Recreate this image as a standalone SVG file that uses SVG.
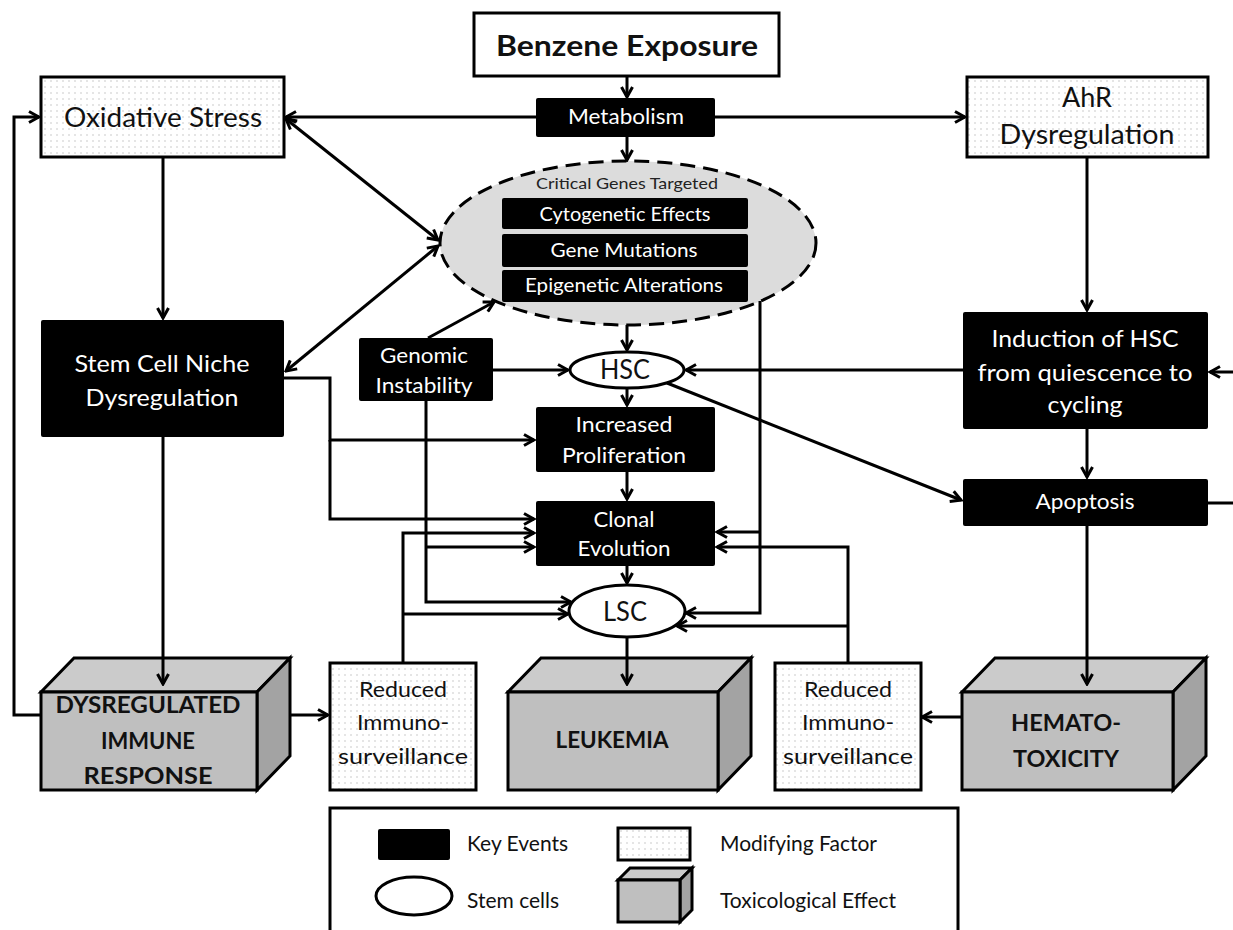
<svg xmlns="http://www.w3.org/2000/svg" width="1233" height="930" viewBox="0 0 1233 930">
  <defs>
    <pattern id="dots" width="6" height="6" patternUnits="userSpaceOnUse">
      <rect width="6" height="6" fill="#ffffff"/>
      <circle cx="3" cy="3" r="0.8" fill="#c4c4c4"/>
    </pattern>
    <marker id="ah" viewBox="0 0 14 14" markerWidth="14" markerHeight="14" refX="12" refY="7" orient="auto-start-reverse" markerUnits="userSpaceOnUse">
      <path d="M2,1.5 L12,7 L2,12.5" fill="none" stroke="#000" stroke-width="3"/>
    </marker>
    <style>
      text { font-family: Lato, "Open Sans", "Liberation Sans", sans-serif; text-anchor: middle; }
      .ke { fill: #000; stroke: none; }
      .kt { fill: #fff; }
      .mf { fill: url(#dots); stroke: #000; stroke-width: 3; }
      .mt { fill: #111; }
      .bx { stroke: #000; stroke-width: 3; stroke-linejoin: miter; }
      .front { fill: #bfbfbf; }
      .top { fill: #cbcbcb; }
      .side { fill: #a3a3a3; }
      .bt { fill: #111; font-weight: bold; }
      .sc { fill: #fff; stroke: #000; stroke-width: 3; }
      .cn path { fill: none; stroke: #000; stroke-width: 3; }
      .arr { marker-end: url(#ah); }
      .both { marker-start: url(#ah); marker-end: url(#ah); }
      .lg { fill: #111; text-anchor: start; font-size: 21px; }
    </style>
  </defs>

  <rect width="1233" height="930" fill="#ffffff"/>

  <g id="benzene">
    <rect x="474" y="13" width="305" height="63" fill="#fff" stroke="#000" stroke-width="3"/>
    <text x="627" y="56" class="bt" font-size="29" textLength="262" lengthAdjust="spacingAndGlyphs">Benzene Exposure</text>
  </g>

  <g id="metabolism">
    <rect x="536" y="98" width="179" height="39" rx="2" class="ke"/>
    <text x="626" y="124" class="kt" font-size="21" textLength="116" lengthAdjust="spacingAndGlyphs">Metabolism</text>
  </g>

  <g id="oxidative-stress">
    <rect x="41" y="77" width="243" height="80" class="mf"/>
    <text x="163" y="127" class="mt" font-size="26" textLength="198" lengthAdjust="spacingAndGlyphs">Oxidative Stress</text>
  </g>

  <g id="ahr">
    <rect x="967" y="77" width="241" height="80" class="mf"/>
    <text x="1087" y="107" class="mt" font-size="26" textLength="50" lengthAdjust="spacingAndGlyphs">AhR</text>
    <text x="1087" y="144" class="mt" font-size="26" textLength="175" lengthAdjust="spacingAndGlyphs">Dysregulation</text>
  </g>

  <g id="critical-genes">
    <ellipse cx="628" cy="243" rx="188" ry="82" fill="#dcdcdc" stroke="#000" stroke-width="3" stroke-dasharray="15 8"/>
    <text x="627" y="189" fill="#222" font-size="16" textLength="182" lengthAdjust="spacingAndGlyphs">Critical Genes Targeted</text>
    <rect x="502" y="198" width="246" height="31" rx="2" class="ke"/>
    <text x="625" y="221" class="kt" font-size="19" textLength="171" lengthAdjust="spacingAndGlyphs">Cytogenetic Effects</text>
    <rect x="502" y="234" width="246" height="33" rx="2" class="ke"/>
    <text x="624" y="257" class="kt" font-size="19" textLength="147" lengthAdjust="spacingAndGlyphs">Gene Mutations</text>
    <rect x="502" y="270" width="246" height="32" rx="2" class="ke"/>
    <text x="624" y="292" class="kt" font-size="19" textLength="198" lengthAdjust="spacingAndGlyphs">Epigenetic Alterations</text>
  </g>

  <g id="stem-cell-niche">
    <rect x="41" y="320" width="243" height="117" rx="2" class="ke"/>
    <text x="162" y="372" class="kt" font-size="24" textLength="175" lengthAdjust="spacingAndGlyphs">Stem Cell Niche</text>
    <text x="162" y="406" class="kt" font-size="24" textLength="153" lengthAdjust="spacingAndGlyphs">Dysregulation</text>
  </g>

  <g id="genomic-instability">
    <rect x="359" y="338" width="134" height="63" rx="2" class="ke"/>
    <text x="424" y="363" class="kt" font-size="21" textLength="88" lengthAdjust="spacingAndGlyphs">Genomic</text>
    <text x="424" y="393" class="kt" font-size="21" textLength="97" lengthAdjust="spacingAndGlyphs">Instability</text>
  </g>

  <g id="hsc">
    <ellipse cx="627" cy="370" rx="57" ry="18" class="sc"/>
    <text x="625" y="379" class="mt" font-size="26" textLength="50" lengthAdjust="spacingAndGlyphs">HSC</text>
  </g>

  <g id="increased-proliferation">
    <rect x="536" y="407" width="179" height="65" rx="2" class="ke"/>
    <text x="624" y="432" class="kt" font-size="21" textLength="97" lengthAdjust="spacingAndGlyphs">Increased</text>
    <text x="624" y="463" class="kt" font-size="21" textLength="124" lengthAdjust="spacingAndGlyphs">Proliferation</text>
  </g>

  <g id="clonal-evolution">
    <rect x="536" y="501" width="179" height="65" rx="2" class="ke"/>
    <text x="624" y="527" class="kt" font-size="21" textLength="61" lengthAdjust="spacingAndGlyphs">Clonal</text>
    <text x="624" y="556" class="kt" font-size="21" textLength="93" lengthAdjust="spacingAndGlyphs">Evolution</text>
  </g>

  <g id="lsc">
    <ellipse cx="627" cy="611" rx="58" ry="26" class="sc"/>
    <text x="625" y="621" class="mt" font-size="26" textLength="44" lengthAdjust="spacingAndGlyphs">LSC</text>
  </g>

  <g id="hsc-induction">
    <rect x="963" y="312" width="245" height="117" rx="2" class="ke"/>
    <text x="1085" y="347" class="kt" font-size="23" textLength="187" lengthAdjust="spacingAndGlyphs">Induction of HSC</text>
    <text x="1085" y="381" class="kt" font-size="23" textLength="215" lengthAdjust="spacingAndGlyphs">from quiescence to</text>
    <text x="1085" y="413" class="kt" font-size="23" textLength="75" lengthAdjust="spacingAndGlyphs">cycling</text>
  </g>

  <g id="apoptosis">
    <rect x="963" y="479" width="245" height="47" rx="2" class="ke"/>
    <text x="1085" y="509" class="kt" font-size="21" textLength="99" lengthAdjust="spacingAndGlyphs">Apoptosis</text>
  </g>

  <g id="dysregulated-immune-response">
    <polygon points="41,692 74,658 290,658 257,692" class="bx top"/>
    <polygon points="257,692 290,658 290,756 257,790" class="bx side"/>
    <rect x="41" y="692" width="216" height="98" class="bx front"/>
    <text x="148" y="713" class="bt" font-size="22" textLength="185" lengthAdjust="spacingAndGlyphs">DYSREGULATED</text>
    <text x="148" y="749" class="bt" font-size="22" textLength="94" lengthAdjust="spacingAndGlyphs">IMMUNE</text>
    <text x="148" y="784" class="bt" font-size="22" textLength="129" lengthAdjust="spacingAndGlyphs">RESPONSE</text>
  </g>

  <g id="immunosurveillance-left">
    <rect x="330" y="663" width="146" height="127" class="mf"/>
    <text x="403" y="697" class="mt" font-size="21" textLength="88" lengthAdjust="spacingAndGlyphs">Reduced</text>
    <text x="403" y="730" class="mt" font-size="21" textLength="92" lengthAdjust="spacingAndGlyphs">Immuno-</text>
    <text x="403" y="764" class="mt" font-size="21" textLength="130" lengthAdjust="spacingAndGlyphs">surveillance</text>
  </g>

  <g id="leukemia">
    <polygon points="508,692 541,658 751,658 718,692" class="bx top"/>
    <polygon points="718,692 751,658 751,756 718,790" class="bx side"/>
    <rect x="508" y="692" width="210" height="98" class="bx front"/>
    <text x="612" y="748" class="bt" font-size="22" textLength="113" lengthAdjust="spacingAndGlyphs">LEUKEMIA</text>
  </g>

  <g id="immunosurveillance-right">
    <rect x="775" y="663" width="146" height="127" class="mf"/>
    <text x="848" y="697" class="mt" font-size="21" textLength="88" lengthAdjust="spacingAndGlyphs">Reduced</text>
    <text x="848" y="730" class="mt" font-size="21" textLength="92" lengthAdjust="spacingAndGlyphs">Immuno-</text>
    <text x="848" y="764" class="mt" font-size="21" textLength="130" lengthAdjust="spacingAndGlyphs">surveillance</text>
  </g>

  <g id="hematotoxicity">
    <polygon points="962,692 995,658 1206,658 1173,692" class="bx top"/>
    <polygon points="1173,692 1206,658 1206,756 1173,790" class="bx side"/>
    <rect x="962" y="692" width="211" height="98" class="bx front"/>
    <text x="1066" y="731" class="bt" font-size="22" textLength="110" lengthAdjust="spacingAndGlyphs">HEMATO-</text>
    <text x="1066" y="767" class="bt" font-size="22" textLength="106" lengthAdjust="spacingAndGlyphs">TOXICITY</text>
  </g>

  <g id="legend">
    <rect x="330" y="808" width="628" height="135" fill="#fff" stroke="#000" stroke-width="3"/>
    <rect x="378" y="829" width="72" height="31" rx="2" class="ke"/>
    <text x="467" y="851" class="lg">Key Events</text>
    <rect x="618" y="828" width="72" height="32" class="mf"/>
    <text x="720" y="851" class="lg">Modifying Factor</text>
    <ellipse cx="414" cy="896" rx="38" ry="19" class="sc"/>
    <text x="467" y="908" class="lg">Stem cells</text>
    <polygon points="618,880 630,868 692,868 680,880" class="bx top"/>
    <polygon points="680,880 692,868 692,910 680,922" class="bx side"/>
    <rect x="618" y="880" width="62" height="42" class="bx front"/>
    <text x="720" y="908" class="lg">Toxicological Effect</text>
  </g>

  <!-- connectors, drawn last so arrowheads sit on top of the box faces -->
  <g id="connectors" class="cn">
    <path class="arr" d="M627,76 V97"/>
    <path class="arr" d="M536,117 H286"/>
    <path class="arr" d="M715,117 H965"/>
    <path class="arr" d="M627,137 V160"/>
    <path class="both" d="M286,119 L438,240"/>
    <path class="both" d="M286,371 L438,246"/>
    <path class="arr" d="M163,157 V318"/>
    <path class="arr" d="M163,437 V684"/>
    <path class="arr" d="M428,338 L494,302"/>
    <path class="arr" d="M627,325 V350"/>
    <path class="arr" d="M493,370 H568"/>
    <path class="arr" d="M963,370 H686"/>
    <path class="arr" d="M667,383 L961,500"/>
    <path class="arr" d="M627,388 V405"/>
    <path class="arr" d="M627,472 V499"/>
    <path class="arr" d="M627,566 V583"/>
    <path class="arr" d="M627,637 V684"/>
    <!-- stem cell niche feeds -->
    <path class="arr" d="M284,378 H330 V440 H534"/>
    <path class="arr" d="M330,440 V519 H534"/>
    <!-- genomic instability feeds -->
    <path class="arr" d="M426,401 V602 H571"/>
    <path class="arr" d="M426,547 H534"/>
    <!-- left immunosurveillance feeds -->
    <path class="arr" d="M403,663 V533 H534"/>
    <path class="arr" d="M403,614 H568"/>
    <!-- critical genes feeds -->
    <path class="arr" d="M760,301 V613 H686"/>
    <path class="arr" d="M760,532 H717"/>
    <!-- right immunosurveillance feeds -->
    <path class="arr" d="M848,663 V547 H717"/>
    <path class="arr" d="M848,626 H677"/>
    <!-- AhR branch -->
    <path class="arr" d="M1087,157 V310"/>
    <path class="arr" d="M1087,429 V477"/>
    <path class="arr" d="M1087,526 V684"/>
    <path class="arr" d="M962,717 H922"/>
    <path class="arr" d="M290,715 H328"/>
    <path class="arr" d="M41,715 H14 V117 H39"/>
    <path class="arr" d="M1208,503 H1242 V372 H1210"/>
  </g>
</svg>
